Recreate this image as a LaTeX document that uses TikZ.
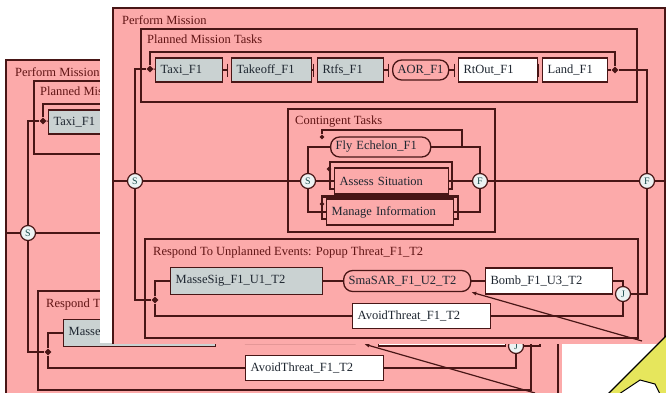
\documentclass[tikz,border=0pt]{standalone}
\usepackage{fontspec}
\setmainfont{Liberation Serif}
\usetikzlibrary{arrows.meta,shapes.geometric}

\definecolor{pinkbg}{RGB}{252,170,170}
\definecolor{edge}{RGB}{72,22,22}
\definecolor{boxgray}{RGB}{202,210,210}
\definecolor{titlered}{RGB}{96,20,20}
\definecolor{boxtext}{RGB}{30,38,48}
\definecolor{gatefill}{RGB}{236,243,243}
\definecolor{gatetext}{RGB}{30,80,80}
\definecolor{calloutyellow}{RGB}{230,230,92}

\newcommand\lblfont{\fontsize{12.5}{13}\selectfont}
\newcommand\ttlfont{\fontsize{12.5}{13}\selectfont}
\newcommand\gtfont{\fontsize{10}{10}\selectfont}

% true: the whole window is drawn; false: parts covered by the front window are left out
\newif\iffullview

\tikzset{
  frameline/.style={draw=edge, line width=1.6pt},
  boxline/.style={draw=edge, line width=1.3pt},
  grouptitle/.style={anchor=north west, inner sep=0pt, text=titlered, font=\ttlfont},
  task/.style={draw=edge, line width=1.3pt, anchor=west, inner xsep=5pt, inner ysep=0pt,
               minimum height=24pt, align=left, text=boxtext, font=\lblfont},
  plainbox/.style={task, fill=white},
  graybox/.style={task, fill=boxgray},
  pinkbox/.style={task, fill=pinkbg},
  pill/.style={task, fill=pinkbg, rounded corners=9pt},
  gate/.style={circle, draw=edge, line width=1.2pt, fill=gatefill, minimum size=15pt,
               inner sep=0pt, font=\gtfont, text=gatetext},
  joint/.style={diamond, fill=edge, minimum size=7pt, inner sep=0pt},
  flow/.style={draw=edge, line width=1.2pt},
  seq/.style={flow, -{Bar[width=13pt,line width=1.3pt]}, shorten >=3pt},
}

% One window of the mission view; #1 is the prefix for node names
\newcommand\missionview[1]{%
  % Perform Mission
  \fill[pinkbg] (113,8) rectangle (669,470);
  \draw[frameline] (113,470) -- (113,8) -- (665,8) -- (665,470);
  \node[grouptitle] (#1ttlpm) at (122,15) {Perform Mission};
  % Planned Mission Tasks
  \draw[frameline] (141,29) rectangle (637,102);
  \node[grouptitle] (#1ttlpl) at (147,35) {Planned Mission Tasks};
  \node[joint] (#1jl) at (150,69) {};
  \node[graybox, text width=57pt] (#1taxi) at (155,70) {Taxi\_F1};
  \node[joint] (#1jr) at (615,70) {};
  \coordinate (#1loop) at (615,52);
  \draw[flow] (#1jl.north) |- (#1loop) -- (#1jr.north);
  \draw[flow] (#1jl) -- (#1taxi);
  \iffullview
    \node[graybox, text width=70pt] (#1takeoff) at (231,70) {Takeoff\_F1};
    \node[graybox, text width=56pt] (#1rtfs) at (317,70) {Rtfs\_F1};
    \node[pill, text width=46pt, minimum height=20pt] (#1aor) at (392,70) {AOR\_F1};
    \node[plainbox, text width=69pt] (#1rtout) at (458,70) {RtOut\_F1};
    \node[plainbox, text width=55pt] (#1land) at (542,70) {Land\_F1};
    \draw[seq] (#1taxi) -- (#1takeoff);
    \draw[seq] (#1takeoff) -- (#1rtfs);
    \draw[seq] (#1rtfs) -- (#1aor);
    \draw[seq] (#1aor) -- (#1rtout);
    \draw[seq] (#1rtout) -- (#1land);
    \draw[flow] (#1land) -- (#1jr);
  \fi
  % main split / join
  \node[gate] (#1S1) at (135,181) {S};
  \node[gate] (#1F2) at (647,181) {F};
  \coordinate (#1inL) at (113,181);
  \coordinate (#1outR) at (672,181);
  \draw[flow] (#1inL) -- (#1S1);
  \draw[flow] (#1F2) -- (#1outR);
  \draw[flow] (#1S1.north) |- (#1jl.west);
  \draw[flow] (#1jr.east) -| (#1F2.north);
  % Contingent Tasks
  \draw[frameline] (288,109) rectangle (495,232);
  \node[gate] (#1S2) at (308,181) {S};
  \node[gate] (#1F) at (480,181) {F};
  \draw[flow] (#1S1) -- (#1S2);
  \draw[flow] (#1F) -- (#1F2);
  \iffullview
    \node[grouptitle] (#1ttlct) at (295,116) {Contingent Tasks};
    \node[pill, text width=90pt, minimum height=20pt] (#1fly) at (330,147) {Fly Echelon\_F1};
    \draw[boxline, fill=pinkbg] (330,162) rectangle (452,189);
    \node[pinkbox, text width=104pt, minimum height=26pt] (#1assess) at (334,181) {Assess Situation};
    \draw[boxline, fill=pinkbg] (322,196) rectangle (458,219);
    \draw[edge, line width=3pt] (322,196) -- (457,196);
    \node[pinkbox, text width=117pt, minimum height=26pt] (#1manage) at (326,212) {Manage Information};
    \node[joint, minimum size=5pt] (#1m1) at (322,137) {};
    \node[joint, minimum size=5pt] (#1m2) at (329,169) {};
    \node[joint, minimum size=5pt] (#1m3) at (322,204) {};
    \coordinate (#1c1) at (462,130);
    \draw[flow] (#1m1.north) |- (#1c1) -- (#1c1 |- #1fly.east);
    \draw[flow] (#1S2.north) |- (#1fly.west);
    \draw[flow] (#1S2) -- (#1assess);
    \draw[flow] (#1S2.south) |- (#1manage.west);
    \draw[flow] (#1fly.east) -| (#1F.north);
    \draw[flow] (#1assess) -- (#1F);
    \draw[flow] (#1manage.east) -| (#1F.south);
  \fi
  % Respond To Unplanned Events
  \draw[frameline] (145,239) rectangle (638,338);
  \node[grouptitle] (#1ttlre) at (153,247) {Respond To Unplanned Events: Popup Threat\_F1\_T2};
  \node[joint] (#1jd) at (155,300) {};
  \node[graybox, text width=142pt, minimum height=27pt] (#1masse) at (170,281) {MasseSig\_F1\_U1\_T2};
  \node[pill, text width=117pt, minimum height=21pt] (#1smasar) at (343,281) {SmaSAR\_F1\_U2\_T2};
  \node[plainbox, text width=117pt, minimum height=26pt] (#1bomb) at (485,281) {Bomb\_F1\_U3\_T2};
  \node[plainbox, text width=128pt, minimum height=25pt] (#1avoid) at (352,316) {AvoidThreat\_F1\_T2};
  \node[gate] (#1J) at (623,294) {J};
  \draw[flow] (#1S1.south) |- (#1jd.west);
  \draw[flow] (#1jd.north) |- (#1masse.west);
  \draw[flow] (#1masse) -- (#1smasar);
  \draw[flow] (#1smasar) -- (#1bomb);
  \draw[flow] (#1bomb.east) -| (#1J.north);
  \draw[flow] (#1jd.south) |- (#1avoid.west);
  \draw[flow] (#1avoid.east) -| (#1J.south);
  \draw[flow] (#1F2.south) |- (#1J.east);
  \coordinate (#1diag) at (642,341);
  \draw[flow, -{Latex[length=5pt,width=4pt]}] (#1diag) -- (#1smasar.south east);
}

\begin{document}
\begin{tikzpicture}[x=1pt, y=-1pt]
  \useasboundingbox (0,0) rectangle (666,392);
  \fill[white] (0,0) rectangle (666,392);
  % window behind
  \begin{scope}
    \clip (0,0) rectangle (666,392);
    \begin{scope}[shift={(-107,52)}]
      \fullviewfalse
      \missionview{b}
    \end{scope}
  \end{scope}
  % window in front
  \begin{scope}
    \clip (100,-2) rectangle (668,343);
    \fill[white] (100,-2) rectangle (668,343);
    \fullviewtrue
    \missionview{f}
  \end{scope}
  % corner of the yellow callout
  \draw[black, line width=1.2pt, fill=calloutyellow] (608,394) -- (668,334) -- (668,394) -- cycle;
  \fill[white] (619,394) -- (640,380) -- (655,384) -- (660,394) -- cycle;
  \draw[black, line width=1pt] (619,394) -- (640,380) -- (655,384) -- (660,394);
\end{tikzpicture}
\end{document}
